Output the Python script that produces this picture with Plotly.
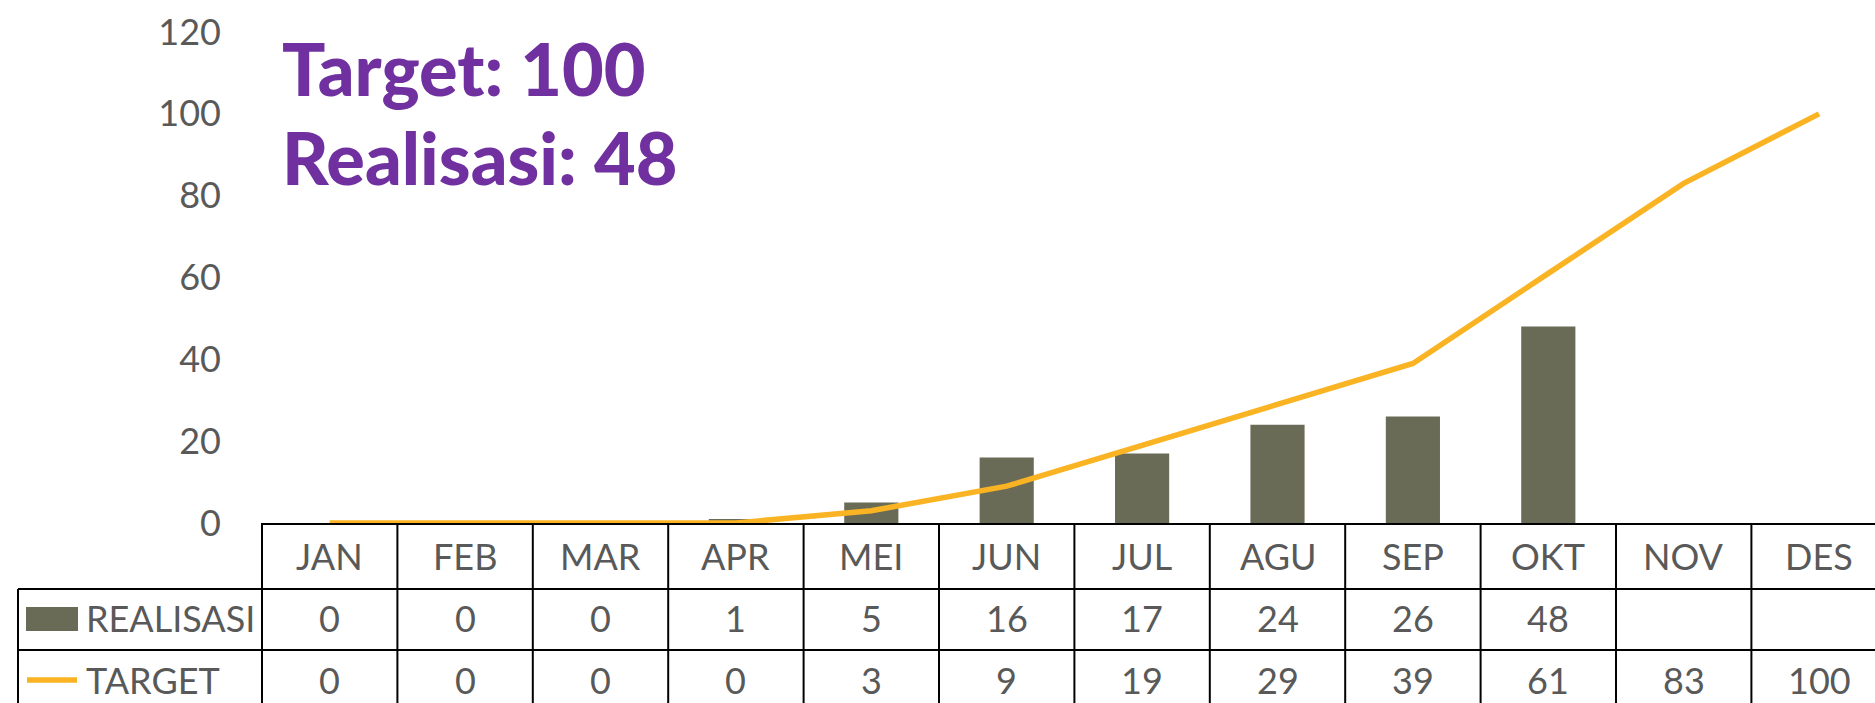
import plotly.graph_objects as go

MONTHS = ["JAN", "FEB", "MAR", "APR", "MEI", "JUN", "JUL", "AGU", "SEP", "OKT", "NOV", "DES"]
REALISASI = [0, 0, 0, 1, 5, 16, 17, 24, 26, 48, None, None]
TARGET = [0, 0, 0, 0, 3, 9, 19, 29, 39, 61, 83, 100]
Y_TICKS = [0, 20, 40, 60, 80, 100, 120]

BAR_COLOR = "#696B57"
LINE_COLOR = "#FAB322"
TEXT_COLOR = "#595959"
TITLE_COLOR = "#7030A0"
FONT = "Lato, Carlito, Calibri, sans-serif"
TITLE_FONT = "Lato, Roboto, sans-serif"

W, H = 1875, 703
L, R, T, B = 262, 0, 32, 180
PW = W - L - R
PH = H - T - B
COL_W = 135.4  # pixel width of one category column


def px_x(px):
    return (px - L) / PW


def px_y(py):
    return (H - B - py) / PH


fig = go.Figure()
fig.add_trace(go.Bar(x=MONTHS, y=REALISASI, name="REALISASI", marker_color=BAR_COLOR,
                     marker_line_width=0))
fig.add_trace(go.Scatter(x=MONTHS, y=TARGET, name="TARGET", mode="lines",
                         line=dict(color=LINE_COLOR, width=5.5), cliponaxis=False))

shapes = []
annotations = []
LINE = dict(color="black", width=2)

y_head_bot = px_y(589)
y_row1_bot = px_y(650)
y_bottom = px_y(740)
x_outer = px_x(18)

for yy in (y_head_bot, y_row1_bot):
    shapes.append(dict(type="line", xref="paper", yref="paper", x0=x_outer, x1=1.01,
                       y0=yy, y1=yy, line=LINE))
shapes.append(dict(type="line", xref="paper", yref="paper", x0=x_outer, x1=x_outer,
                   y0=y_head_bot, y1=y_bottom, line=LINE))
shapes.append(dict(type="line", xref="paper", yref="paper", x0=0, x1=0,
                   y0=0, y1=y_bottom, line=LINE))
for i in range(1, len(MONTHS) + 1):
    shapes.append(dict(type="line", xref="x", yref="paper", x0=i - 0.5, x1=i - 0.5,
                       y0=0, y1=y_bottom, line=LINE))

shapes.append(dict(type="rect", xref="paper", yref="paper", x0=px_x(26), x1=px_x(78),
                   y0=px_y(631), y1=px_y(607), fillcolor=BAR_COLOR, line_width=0))
shapes.append(dict(type="line", xref="paper", yref="paper", x0=px_x(27), x1=px_x(77),
                   y0=px_y(680), y1=px_y(680), line=dict(color=LINE_COLOR, width=5.5)))

cell_font = dict(family=FONT, size=36, color=TEXT_COLOR)
row_y = {"head": px_y(556), "real": px_y(618), "targ": px_y(680)}
for i, m in enumerate(MONTHS):
    annotations.append(dict(x=m, y=row_y["head"], xref="x", yref="paper", text=m,
                            showarrow=False, font=cell_font, xanchor="center", yanchor="middle"))
    if REALISASI[i] is not None:
        annotations.append(dict(x=m, y=row_y["real"], xref="x", yref="paper",
                                text=str(REALISASI[i]), showarrow=False, font=cell_font,
                                xanchor="center", yanchor="middle"))
    if TARGET[i] is not None:
        annotations.append(dict(x=m, y=row_y["targ"], xref="x", yref="paper",
                                text=str(TARGET[i]), showarrow=False, font=cell_font,
                                xanchor="center", yanchor="middle"))

annotations.append(dict(x=px_x(84), y=row_y["real"], xref="paper", yref="paper",
                        text="REALISASI", showarrow=False, font=cell_font,
                        xanchor="left", yanchor="middle"))
annotations.append(dict(x=px_x(84), y=row_y["targ"], xref="paper", yref="paper",
                        text="TARGET", showarrow=False, font=cell_font,
                        xanchor="left", yanchor="middle"))

last_real = [v for v in REALISASI if v is not None][-1]
title_font = dict(family=TITLE_FONT, size=72, color=TITLE_COLOR, weight=900)
annotations.append(dict(x=px_x(280), y=px_y(68), xref="paper", yref="paper",
                        text=f"Target: {TARGET[-1]}", showarrow=False, font=title_font,
                        xanchor="left", yanchor="middle"))
annotations.append(dict(x=px_x(280), y=px_y(157), xref="paper", yref="paper",
                        text=f"Realisasi: {last_real}", showarrow=False, font=title_font,
                        xanchor="left", yanchor="middle"))

x_max = -0.5 + PW / COL_W

fig.update_layout(
    width=W, height=H,
    margin=dict(l=L, r=R, t=T, b=B, pad=0),
    paper_bgcolor="white", plot_bgcolor="white",
    showlegend=False,
    bargap=0.6,
    shapes=shapes,
    annotations=annotations,
    xaxis=dict(type="category", range=[-0.5, x_max], showticklabels=False, ticks="",
               showgrid=False, zeroline=False, showline=True, linecolor="black",
               linewidth=2, fixedrange=True),
    yaxis=dict(range=[0, 120], tickvals=Y_TICKS, showgrid=False, zeroline=False,
               showline=False, ticks="", ticklabelstandoff=40,
               tickfont=dict(family=FONT, size=36, color=TEXT_COLOR), fixedrange=True),
)

fig.write_html("out.html", config={"displayModeBar": False},
               post_script="document.body.style.margin='0px';document.body.style.overflow='hidden';")
